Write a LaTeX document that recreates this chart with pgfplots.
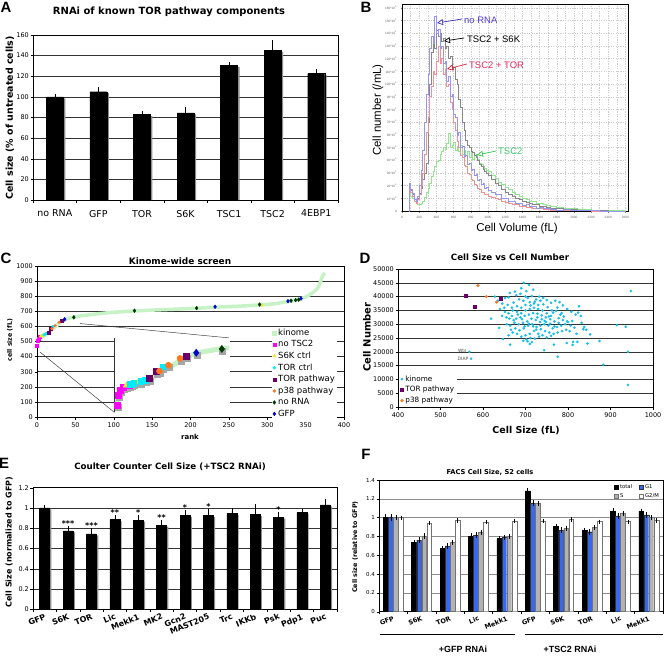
\documentclass[border=0pt]{standalone}
\usepackage{fontspec}
\setmainfont{DejaVu Sans}
\newfontfamily\arial{Liberation Sans}
\usepackage{pgfplots}
\pgfplotsset{compat=1.18}
\usetikzlibrary{arrows.meta}
\newcommand{\fs}[1]{\fontsize{#1}{#1}\selectfont}
\newcommand{\kk}[1]{#1*10\textsuperscript{3}}

\definecolor{kgreen}{RGB}{198,242,198}
\definecolor{cmag}{RGB}{255,0,255}
\definecolor{cyel}{RGB}{240,235,30}
\definecolor{ccya}{RGB}{0,235,255}
\definecolor{cpur}{RGB}{105,0,105}
\definecolor{cora}{RGB}{255,120,30}
\definecolor{cnorna}{RGB}{0,55,0}
\definecolor{cgfp}{RGB}{0,0,205}
\definecolor{dcyan}{RGB}{20,190,235}
\definecolor{fblue}{RGB}{55,105,240}
\definecolor{hblue}{RGB}{150,150,238}
\definecolor{hgray}{RGB}{135,135,135}
\definecolor{hred}{RGB}{242,145,145}
\definecolor{hgreen}{RGB}{145,228,145}

\pgfplotsset{
  /pgf/number format/assume math mode=true,
  /pgf/number format/1000 sep={},
  xl/.style={scale only axis, anchor=south west,
    axis line style={black, line width=0.5pt},
    tick align=outside, tick pos=left, major tick length=2.5bp,
    tick style={black, line width=0.4pt},
    ymajorgrids, grid style={black!80, line width=0.45pt},
    tick label style={font=\fs{6.5}},
    yticklabel style={inner sep=1.5bp},
    legend cell align=left},
  cat/.style={major x tick style={draw=none}, minor tick length=2.5bp,
    minor x tick style={black, line width=0.4pt}},
}

\begin{document}
\begin{tikzpicture}
\path[use as bounding box] (0,0) rectangle (664bp,-659bp);

% ---------------- A
\begin{axis}[xl, cat, at={(33bp,-200bp)}, width=305bp, height=165bp,
  xmin=-0.5, xmax=6.5, ymin=0, ymax=160, ytick={0,20,...,160},
  xtick={0,1,...,6}, xticklabels={no RNA,GFP,TOR,S6K,TSC1,TSC2,4EBP1},
  minor xtick={-0.5,0.5,...,6.5},
  xticklabel style={font=\fs{9.5}, yshift=-4bp},
  ybar, bar width=17bp]
\addplot[fill=black!45, draw=none, bar shift=2bp] coordinates {(0,98.6) (1,103.6) (2,81.6) (3,83.1) (4,129.1) (5,143.6) (6,121.1)};
\addplot[fill=black, draw=black, bar shift=0bp,
  error bars/.cd, y dir=plus, y explicit, error bar style={black, line width=0.5pt},
  error mark options={black, mark size=2.5bp, line width=0.5pt}]
  coordinates {(0,100) +- (0,0.5) (1,105) +- (0,1.8) (2,83) +- (0,0.5) (3,84.5) +- (0,2.8) (4,130.5) +- (0,0.6) (5,145) +- (0,7.5) (6,122.5) +- (0,1.8)};
\end{axis}

% ---------------- B
\begin{axis}[scale only axis, anchor=south west, at={(402bp,-211bp)}, width=226bp, height=207bp,
  xmin=0, xmax=2630, ymin=0, ymax=163,
  axis line style={black, line width=0.9pt},
  xtick={0,200,...,2600}, minor x tick num=1, ytick={0,10,...,160},
  yticklabels={0,\kk{10},\kk{20},\kk{30},\kk{40},\kk{50},\kk{60},\kk{70},\kk{80},\kk{90},\kk{100},\kk{110},\kk{120},\kk{130},\kk{140},\kk{150},\kk{160}},
  tick label style={font=\arial\fs{3.2}, text=black!60}, tick style={black!50, line width=0.3pt},
  major tick length=1.5bp, minor tick length=0bp, tick align=outside, tick pos=left,
  xmajorgrids, xminorgrids, ymajorgrids,
  grid style={black!20, dash pattern=on 1.2bp off 1.2bp, line width=0.3pt},
  const plot, no marks, every axis plot/.append style={line width=0.45pt}]
\addplot[hgreen] table[row sep=\\]{x y\\79 0\\80 16\\100 12\\120 10\\140 8\\160 6\\180 5\\200 5\\220 6\\240 8\\260 11\\280 15\\300 18\\320 22\\340 27\\360 31\\380 35\\400 39\\420 40\\440 45\\460 47\\480 50\\500 49\\520 53\\540 61\\560 50\\580 52\\600 54\\620 48\\640 51\\660 47\\680 52\\700 45\\720 48\\740 44\\760 47\\780 42\\800 46\\820 41\\840 44\\860 45\\880 41\\900 38\\920 37\\940 35\\960 34\\980 32\\1000 31\\1040 28\\1080 26\\1120 23\\1160 21\\1200 19\\1240 17\\1280 15\\1320 13\\1360 12\\1400 10\\1440 9.5\\1480 8\\1520 7.5\\1560 6\\1600 6\\1640 5\\1680 4.5\\1720 4\\1760 3.5\\1800 3\\1880 2.5\\1960 2\\2040 1.6\\2120 1.2\\2200 1\\2280 0.7\\2360 0.5\\2440 0.3\\2600 0\\};
\addplot[hgray] table[row sep=\\]{x y\\79 0\\80 20\\100 16\\120 13\\140 8\\160 7\\180 10\\200 14\\220 18\\240 25\\260 30\\280 38\\300 70\\320 100\\340 125\\360 132\\380 128\\400 142\\420 138\\440 140\\460 134\\480 136\\500 128\\520 130\\540 120\\560 122\\580 112\\600 113\\620 104\\640 100\\660 88\\680 82\\700 70\\720 64\\740 56\\760 52\\780 50\\800 47\\820 46\\840 44\\860 42\\880 40\\900 37\\920 35\\940 33\\960 31\\980 30\\1000 28\\1040 25\\1080 22\\1120 20\\1160 17\\1200 15\\1240 13\\1280 12\\1320 10\\1360 9\\1400 8\\1440 7\\1480 6\\1520 5.5\\1560 5\\1600 4\\1640 3.5\\1680 3\\1720 2.5\\1760 2\\1800 2\\1880 1.5\\1960 1.2\\2040 1\\2120 0.8\\2200 0.5\\2300 0.3\\2400 0.2\\2600 0\\};
\addplot[hred] table[row sep=\\]{x y\\79 0\\80 20\\100 15\\120 12\\140 8\\160 6\\180 9\\200 13\\220 20\\240 30\\260 45\\280 62\\300 74\\320 90\\340 98\\360 110\\380 108\\400 118\\420 130\\440 116\\460 120\\480 108\\500 112\\520 98\\540 100\\560 86\\580 80\\600 70\\620 64\\640 55\\660 50\\680 44\\700 42\\720 36\\740 35\\760 30\\780 29\\800 25\\820 24\\840 21\\860 20\\880 18\\900 17\\920 15\\940 15\\960 13\\980 13\\1000 12\\1040 11\\1080 10\\1120 9\\1160 8\\1200 7\\1240 6\\1280 5.5\\1320 5\\1360 4\\1400 4\\1440 3\\1480 3\\1520 2.5\\1560 2\\1600 2\\1640 1.5\\1680 1.5\\1720 1\\1760 1\\1800 0.8\\1880 0.6\\1960 0.5\\2040 0.4\\2120 0.3\\2200 0.2\\2400 0.1\\2600 0\\};
\addplot[hblue] table[row sep=\\]{x y\\79 0\\80 22\\100 17\\120 14\\140 9\\160 8\\180 12\\200 20\\220 32\\240 48\\260 70\\280 92\\300 108\\320 128\\340 138\\360 132\\380 153\\400 140\\420 143\\440 128\\460 130\\480 116\\500 118\\520 102\\540 106\\560 90\\580 92\\600 76\\620 74\\640 60\\660 62\\680 50\\700 51\\720 43\\740 44\\760 37\\780 38\\800 32\\820 33\\840 28\\860 29\\880 24\\900 25\\920 21\\940 22\\960 18\\980 19\\1000 16\\1040 15\\1080 13\\1120 13\\1160 10\\1200 10\\1240 8\\1280 8\\1320 6\\1360 6\\1400 4.5\\1440 5\\1480 3.5\\1520 4\\1560 2.5\\1600 3\\1640 2\\1680 2\\1720 1.5\\1760 1.5\\1800 1\\1880 1.2\\1960 0.8\\2040 0.6\\2120 0.4\\2200 0.3\\2300 0.2\\2400 0.1\\2600 0\\};
\end{axis}

% ---------------- C (main)
\begin{axis}[xl, at={(37bp,-417bp)}, width=307bp, height=151bp,
  xmin=0, xmax=400, ymin=0, ymax=1000, xtick={0,50,...,400}, ytick={0,100,...,1000},
  legend style={at={(axis description cs:0.765,0.60)}, anchor=north west, draw=none, fill=white,
    font=\fs{8.5}, inner sep=0.5bp, row sep=-0.3bp},
  legend image code/.code={\draw[#1] plot coordinates {(0.1cm,0cm)};}]
\addplot[kgreen, line width=3.5bp, forget plot] table[row sep=\\]{x y\\0 470\\2 510\\5 528\\10 540\\15 558\\20 580\\25 602\\30 626\\36 646\\48 662\\60 672\\80 684\\100 694\\127 702\\150 708\\180 714\\208 720\\231 727\\260 733\\290 742\\310 750\\326 764\\335 772\\344 784\\350 795\\356 812\\361 830\\365 850\\368 875\\370 905\\372 935\\375 955\\};
\addlegendimage{only marks, mark=square*, kgreen, mark size=1.8bp}
\addlegendentry{kinome}
\addplot[only marks, mark=square*, mark size=1.4bp, cmag] coordinates {(0,470) (1,504) (2,521) (3.3,532)};
\addlegendentry{no TSC2}
\addplot[only marks, mark=triangle*, mark size=1.8bp, cyel] coordinates {(5,535) (7,540) (293,740)};
\addlegendentry{S6K ctrl}
\addplot[only marks, mark=*, mark size=1.4bp, ccya] coordinates {(9,544) (11,550) (13,555) (21,600)};
\addlegendentry{TOR ctrl}
\addplot[only marks, mark=square*, mark size=1.4bp, cpur] coordinates {(15,560) (18,583) (31.7,636)};
\addlegendentry{TOR pathway}
\addplot[only marks, mark=*, mark size=1.4bp, cora] coordinates {(19.5,585) (23.5,605) (28.7,628)};
\addlegendentry{p38 pathway}
\addplot[only marks, mark=diamond*, mark size=1.9bp, cnorna] coordinates {(48,660) (127,704) (208,721) (290,745) (331,770) (337,774) (341,777)};
\addlegendentry{no RNA}
\addplot[only marks, mark=diamond*, mark size=1.9bp, cgfp] coordinates {(36,647) (232,730) (327,767) (344,785)};
\addlegendentry{GFP}
\fill[white] (axis cs:100,8) rectangle (axis cs:251,523);
\draw[black!80, line width=0.45pt] (axis cs:4,430) -- (axis cs:101,30);
\draw[black!80, line width=0.45pt] (axis cs:100,30) -- (axis cs:100,522);
\draw[black!80, line width=0.45pt] (axis cs:56,619) -- (axis cs:250,524);
\end{axis}

% ---------------- C (inset)
\begin{axis}[scale only axis, anchor=south west, at={(115bp,-413bp)}, width=114bp, height=75bp,
  xmin=-0.45, xmax=50.7, ymin=443, ymax=697, hide axis]
\addplot[kgreen, line width=5bp] table[row sep=\\]{x y\\0 470\\2 510\\5 528\\10 540\\15 558\\20 580\\25 602\\30 626\\36 646\\48 662\\52 664\\};
\addplot[only marks, mark=square*, mark size=3bp, black!35, mark options={xshift=0.8bp, yshift=-2.4bp}] coordinates {(0.5,470) (1,504) (2,521) (3.3,532) (4.5,536) (6,540) (7,541) (8,544) (10,548) (11,550) (13,555) (15,560) (18,583) (19.5,585) (21,600) (23.5,605) (28.7,628) (31.7,636) (36,647) (47.5,660)};
\addplot[only marks, mark=square*, mark size=3bp, cmag] coordinates {(0.5,470) (1,504) (2,521) (3.3,532) (6,538)};
\addplot[only marks, mark=triangle*, mark size=3.4bp, cyel] coordinates {(4.5,536) (7,541) (10,548)};
\addplot[only marks, mark=square*, mark size=2.8bp, ccya] coordinates {(6.5,540) (8,544) (11,550) (13,555) (21,600)};
\addplot[only marks, mark=square*, mark size=3bp, cpur] coordinates {(15,560) (18,583) (31.7,636)};
\addplot[only marks, mark=*, mark size=3bp, cora] coordinates {(19.5,585) (23.5,605) (28.7,628)};
\addplot[only marks, mark=diamond*, mark size=3.6bp, cgfp] coordinates {(36,647)};
\addplot[only marks, mark=diamond*, mark size=3.6bp, cnorna] coordinates {(47.5,660)};
\end{axis}

% ---------------- D
\begin{axis}[xl, at={(398bp,-407bp)}, width=255bp, height=138bp,
  xmin=400, xmax=1000, ymin=0, ymax=50000, xtick={400,500,...,1000}, ytick={0,5000,...,50000},
  scaled y ticks=false,
  legend style={at={(axis description cs:0.005,0.25)}, anchor=north west, draw=none, fill=white,
    font=\fs{7.3}, inner sep=1bp, row sep=-0.3bp},
  legend image code/.code={\draw[#1] plot coordinates {(0.1cm,0cm)};}]
\addplot[only marks, mark=*, mark size=1.1bp, dcyan] table[row sep=\\]{x y\\
948 42000\\915 29700\\936 29100\\941 20000\\941 8000\\883 15300\\874 23900\\846 23000\\852 26300\\843 28000\\
836 28200\\826 36500\\824 34200\\830 33000\\812 23600\\822 23600\\811 22500\\797 23200\\800 30800\\793 30000\\
806 29500\\776 18200\\767 22600\\744 20600\\710 22800\\664 22600\\647 24600\\638 28700\\619 32000\\568 20000\\
572 17500\\696 45000\\708 44200\\690 43000\\663 41300\\675 41800\\652 39500\\628 40000\\635 38500\\645 37500\\
650 36000\\640 39000\\660 39800\\700 40000\\705 39500\\715 40200\\725 39000\\735 38500\\710 38000\\695 38500\\
685 39000\\672 37800\\680 36500\\690 36000\\700 37000\\720 37500\\730 37000\\742 37200\\752 36200\\762 35000\\
772 34800\\782 33500\\790 32800\\760 33000\\750 34000\\740 35000\\730 35500\\720 36000\\710 35500\\700 35000\\
690 34000\\680 34500\\670 35000\\660 34000\\655 32500\\668 33000\\678 32000\\688 32500\\698 33000\\708 33500\\
718 34000\\728 33800\\738 33200\\748 32500\\758 31800\\768 31000\\778 30500\\788 31500\\798 31000\\784 29500\\
774 29000\\764 28500\\754 29500\\744 30000\\734 30800\\724 31500\\714 32000\\704 31000\\694 30500\\684 30000\\
674 30500\\664 29500\\656 30000\\666 28000\\676 28500\\686 27800\\696 28500\\706 29500\\716 30000\\726 29000\\
736 28200\\746 27500\\756 27000\\766 26500\\776 27000\\786 27500\\760 25800\\750 25200\\740 26000\\730 26500\\
720 27500\\710 26500\\700 26000\\690 25500\\680 26500\\670 27000\\660 26000\\702 24500\\712 25000\\722 24800\\
732 25500\\705 23800\\695 24000\\715 23500\\725 28000\\735 29500\\745 31200\\755 32800\\765 34200\\775 36000\\
785 34000\\712 36800\\722 38200\\732 40000\\742 39500\\702 42000\\718 42500\\688 41000\\678 40500\\692 31800\\
682 33500\\672 31500\\662 32000\\652 34500\\645 33000\\640 35500\\658 37000\\668 36000\\698 29200\\708 30200\\
718 29200\\728 32500\\738 31800\\748 30800\\758 30200\\768 29200\\778 32200\\796 28000\\804 27500\\810 31200\\
815 28800\\820 26500\\832 30500\\838 29000\\818 33500\\808 34500\\798 35500\\788 36800\\780 38000\\770 38500\\
760 37800\\750 38800\\};
\addlegendentry{kinome}
\addplot[only marks, mark=square*, mark size=1.5bp, cpur] coordinates {(560,40500) (580,36500) (641,39300)};
\addlegendentry{TOR pathway}
\addplot[only marks, mark=*, mark size=1.4bp, cora] coordinates {(588,44000) (608,40000) (632,38000)};
\addlegendentry{p38 pathway}
\node[anchor=east, font=\fs{4.5}, text=black!70, inner sep=0.5bp] at (axis cs:563,20400) {Wts};
\node[anchor=east, font=\fs{4.5}, text=black!70, inner sep=0.5bp] at (axis cs:567,17400) {DIAP};
\end{axis}

% ---------------- E
\begin{axis}[xl, cat, at={(33bp,-609.3bp)}, width=304bp, height=121.6bp,
  xmin=-0.5, xmax=12.5, ymin=0, ymax=1.2, ytick={0,0.2,0.4,0.6,0.8,1,1.2},
  xtick={0,1,...,12},
  xticklabels={GFP,S6K,TOR,Lic,Mekk1,MK2,Gcn2,MAST205,Trc,IKKb,Psk,Pdp1,Puc},
  minor xtick={-0.5,0.5,...,12.5},
  xticklabel style={font=\bfseries\fs{8}, rotate=22.5, anchor=north east, inner sep=1bp},
  ybar, bar width=10bp]
\addplot[fill=black!45, draw=none, bar shift=1.8bp] coordinates {(0,0.985) (1,0.76) (2,0.73) (3,0.87) (4,0.865) (5,0.815) (6,0.91) (7,0.91) (8,0.93) (9,0.92) (10,0.895) (11,0.94) (12,1.015)};
\addplot[fill=black, draw=black, bar shift=0bp,
  error bars/.cd, y dir=plus, y explicit, error bar style={black, line width=0.5pt},
  error mark options={black, mark size=2.2bp, line width=0.5pt}]
  coordinates {(0,1.0) +- (0,0.004) (1,0.775) +- (0,0.025) (2,0.745) +- (0,0.035) (3,0.885) +- (0,0.02) (4,0.88) +- (0,0.03) (5,0.83) +- (0,0.025) (6,0.925) +- (0,0.03) (7,0.925) +- (0,0.045) (8,0.945) +- (0,0.03) (9,0.935) +- (0,0.08) (10,0.91) +- (0,0.03) (11,0.955) +- (0,0.01) (12,1.03) +- (0,0.04)};
\addplot[draw=none, fill=none, bar shift=0bp, nodes near coords, point meta=explicit symbolic,
  nodes near coords style={font=\bfseries\fs{8}, anchor=south, inner sep=0.5bp, yshift=1bp}]
  coordinates {(1,0.80) [***] (2,0.78) [***] (3,0.905) [**] (4,0.91) [*] (5,0.855) [**] (6,0.955) [*] (7,0.97) [*] (10,0.94) [*]};
\end{axis}

% ---------------- F
\begin{axis}[xl, cat, at={(379bp,-611.7bp)}, width=284bp, height=131.7bp,
  xmin=-0.5, xmax=9.5, ymin=0, ymax=1.4, ytick={0,0.2,0.4,0.6,0.8,1,1.2,1.4},
  grid style={black!45, line width=0.5pt}, tick label style={font=\fs{5.5}},
  xtick={0,1,...,9},
  xticklabels={GFP,S6K,TOR,Lic,Mekk1,GFP,S6K,TOR,Lic,Mekk1},
  minor xtick={-0.5,0.5,...,9.5},
  xticklabel style={font=\bfseries\fs{6.5}, rotate=22.5, anchor=north east, inner sep=1bp},
  ybar, bar width=4.8bp,
  legend columns=2, legend cell align=left,
  legend style={at={(axis description cs:0.995,0.985)}, anchor=north east, draw=none, fill=none,
    font=\fs{5.3}, inner sep=0.5bp, row sep=-0.5bp, /tikz/every even column/.append style={column sep=5bp}},
  legend image code/.code={\draw[#1] (0bp,-1.7bp) rectangle (3.6bp,1.9bp);},
  error bars/y dir=both, error bars/y explicit,
  error bars/error bar style={black, line width=0.4pt},
  error bars/error mark options={black, mark size=1.6bp, line width=0.4pt}]
\addplot[fill=black, draw=black, bar shift=-7.6bp] coordinates {(0,1.0) +- (0,0.02) (1,0.74) +- (0,0.01) (2,0.67) +- (0,0.015) (3,0.80) +- (0,0.015) (4,0.78) +- (0,0.01) (5,1.285) +- (0,0.015) (6,0.905) +- (0,0.01) (7,0.865) +- (0,0.01) (8,1.07) +- (0,0.012) (9,1.07) +- (0,0.01)};
\addlegendentry{total}
\addplot[fill=fblue, draw=black!80, bar shift=-2.5bp] coordinates {(0,1.0) +- (0,0.02) (1,0.76) +- (0,0.015) (2,0.70) +- (0,0.015) (3,0.815) +- (0,0.015) (4,0.787) +- (0,0.01) (5,1.155) +- (0,0.015) (6,0.865) +- (0,0.015) (7,0.85) +- (0,0.015) (8,1.02) +- (0,0.015) (9,1.03) +- (0,0.015)};
\addlegendentry{G1}
\addplot[fill=black!30, draw=black!55, bar shift=2.5bp] coordinates {(0,1.0) +- (0,0.01) (1,0.805) +- (0,0.01) (2,0.74) +- (0,0.01) (3,0.845) +- (0,0.01) (4,0.80) +- (0,0.01) (5,1.15) +- (0,0.01) (6,0.887) +- (0,0.01) (7,0.897) +- (0,0.01) (8,1.046) +- (0,0.01) (9,1.0) +- (0,0.01)};
\addlegendentry{S}
\addplot[fill=white, draw=black!55, bar shift=7.6bp] coordinates {(0,1.0) +- (0,0.005) (1,0.94) +- (0,0.005) (2,0.97) +- (0,0.005) (3,0.95) +- (0,0.005) (4,0.965) +- (0,0.005) (5,0.965) +- (0,0.005) (6,0.98) +- (0,0.005) (7,0.957) +- (0,0.005) (8,0.957) +- (0,0.005) (9,0.97) +- (0,0.005)};
\addlegendentry{G2/M}
\end{axis}

% ---------------- texts
\node[font=\arial\bfseries\fs{15}] at (6bp,-7bp) {A};
\node[font=\arial\bfseries\fs{15}] at (366bp,-7bp) {B};
\node[font=\arial\bfseries\fs{15}] at (6bp,-258bp) {C};
\node[font=\arial\bfseries\fs{15}] at (365bp,-258bp) {D};
\node[font=\arial\bfseries\fs{15}] at (4bp,-463bp) {E};
\node[font=\arial\bfseries\fs{15}] at (366bp,-454bp) {F};

\node[font=\bfseries\fs{10}] at (169bp,-12bp) {RNAi of known TOR pathway components};
\node[font=\bfseries\fs{9.5}, rotate=90] at (10bp,-118bp) {Cell size (\% of untreated cells)};

\node[font=\arial\fs{11.5}, rotate=90] at (378bp,-110bp) {Cell number (/mL)};
\node[font=\arial\fs{11.5}] at (517bp,-229bp) {Cell Volume (fL)};
\draw[{Triangle[open,length=6bp,width=6bp]}-, color={rgb,255:red,60;green,50;blue,190}, line width=0.7pt] (437bp,-23bp) -- (462bp,-19bp);
\node[font=\arial\fs{9.5}, text={rgb,255:red,80;green,60;blue,200}, anchor=west, inner sep=1bp] at (463bp,-20bp) {no RNA};
\draw[{Triangle[open,length=6bp,width=6bp]}-, black, line width=0.7pt] (444bp,-41bp) -- (464bp,-38bp);
\node[font=\arial\fs{9.5}, anchor=west, inner sep=1bp] at (466bp,-39bp) {TSC2 + S6K};
\draw[{Triangle[open,length=6bp,width=6bp]}-, color={rgb,255:red,220;green,30;blue,50}, line width=0.7pt] (447bp,-69bp) -- (467bp,-64bp);
\node[font=\arial\fs{9.5}, text={rgb,255:red,230;green,40;blue,90}, anchor=west, inner sep=1bp] at (468bp,-65bp) {TSC2 + TOR};
\draw[{Triangle[open,length=6bp,width=6bp]}-, color={rgb,255:red,50;green,200;blue,80}, line width=0.7pt] (477bp,-155bp) -- (496bp,-151bp);
\node[font=\arial\fs{9.5}, text={rgb,255:red,60;green,200;blue,110}, anchor=west, inner sep=1bp] at (497bp,-151bp) {TSC2};

\node[font=\bfseries\fs{9}] at (180bp,-261bp) {Kinome-wide screen};
\node[font=\bfseries\fs{6.3}, rotate=90] at (10bp,-340bp) {cell size (fL)};
\node[font=\bfseries\fs{7}] at (190bp,-437bp) {rank};

\node[font=\bfseries\fs{8.7}] at (510bp,-257bp) {Cell Size vs Cell Number};
\node[font=\bfseries\fs{10}, rotate=90] at (367bp,-337bp) {Cell Number};
\node[font=\bfseries\fs{9.5}] at (526bp,-431bp) {Cell Size (fL)};

\node[font=\bfseries\fs{8.7}] at (170bp,-467bp) {Coulter Counter Cell Size (+TSC2 RNAi)};
\node[font=\bfseries\fs{8}, rotate=90] at (9bp,-542bp) {Cell Size (normalized to GFP)};

\node[font=\bfseries\fs{6.7}] at (490bp,-472bp) {FACS Cell Size, S2 cells};
\node[font=\bfseries\fs{6.4}, rotate=90] at (355bp,-547bp) {Cell size (relative to GFP)};
\draw[line width=0.6pt] (380bp,-634bp) -- (515bp,-634bp);
\draw[line width=0.6pt] (525bp,-634bp) -- (663bp,-634bp);
\node[font=\arial\bfseries\fs{9}] at (463bp,-649bp) {+GFP RNAi};
\node[font=\arial\bfseries\fs{9}] at (570bp,-649bp) {+TSC2 RNAi};
\end{tikzpicture}
\end{document}
